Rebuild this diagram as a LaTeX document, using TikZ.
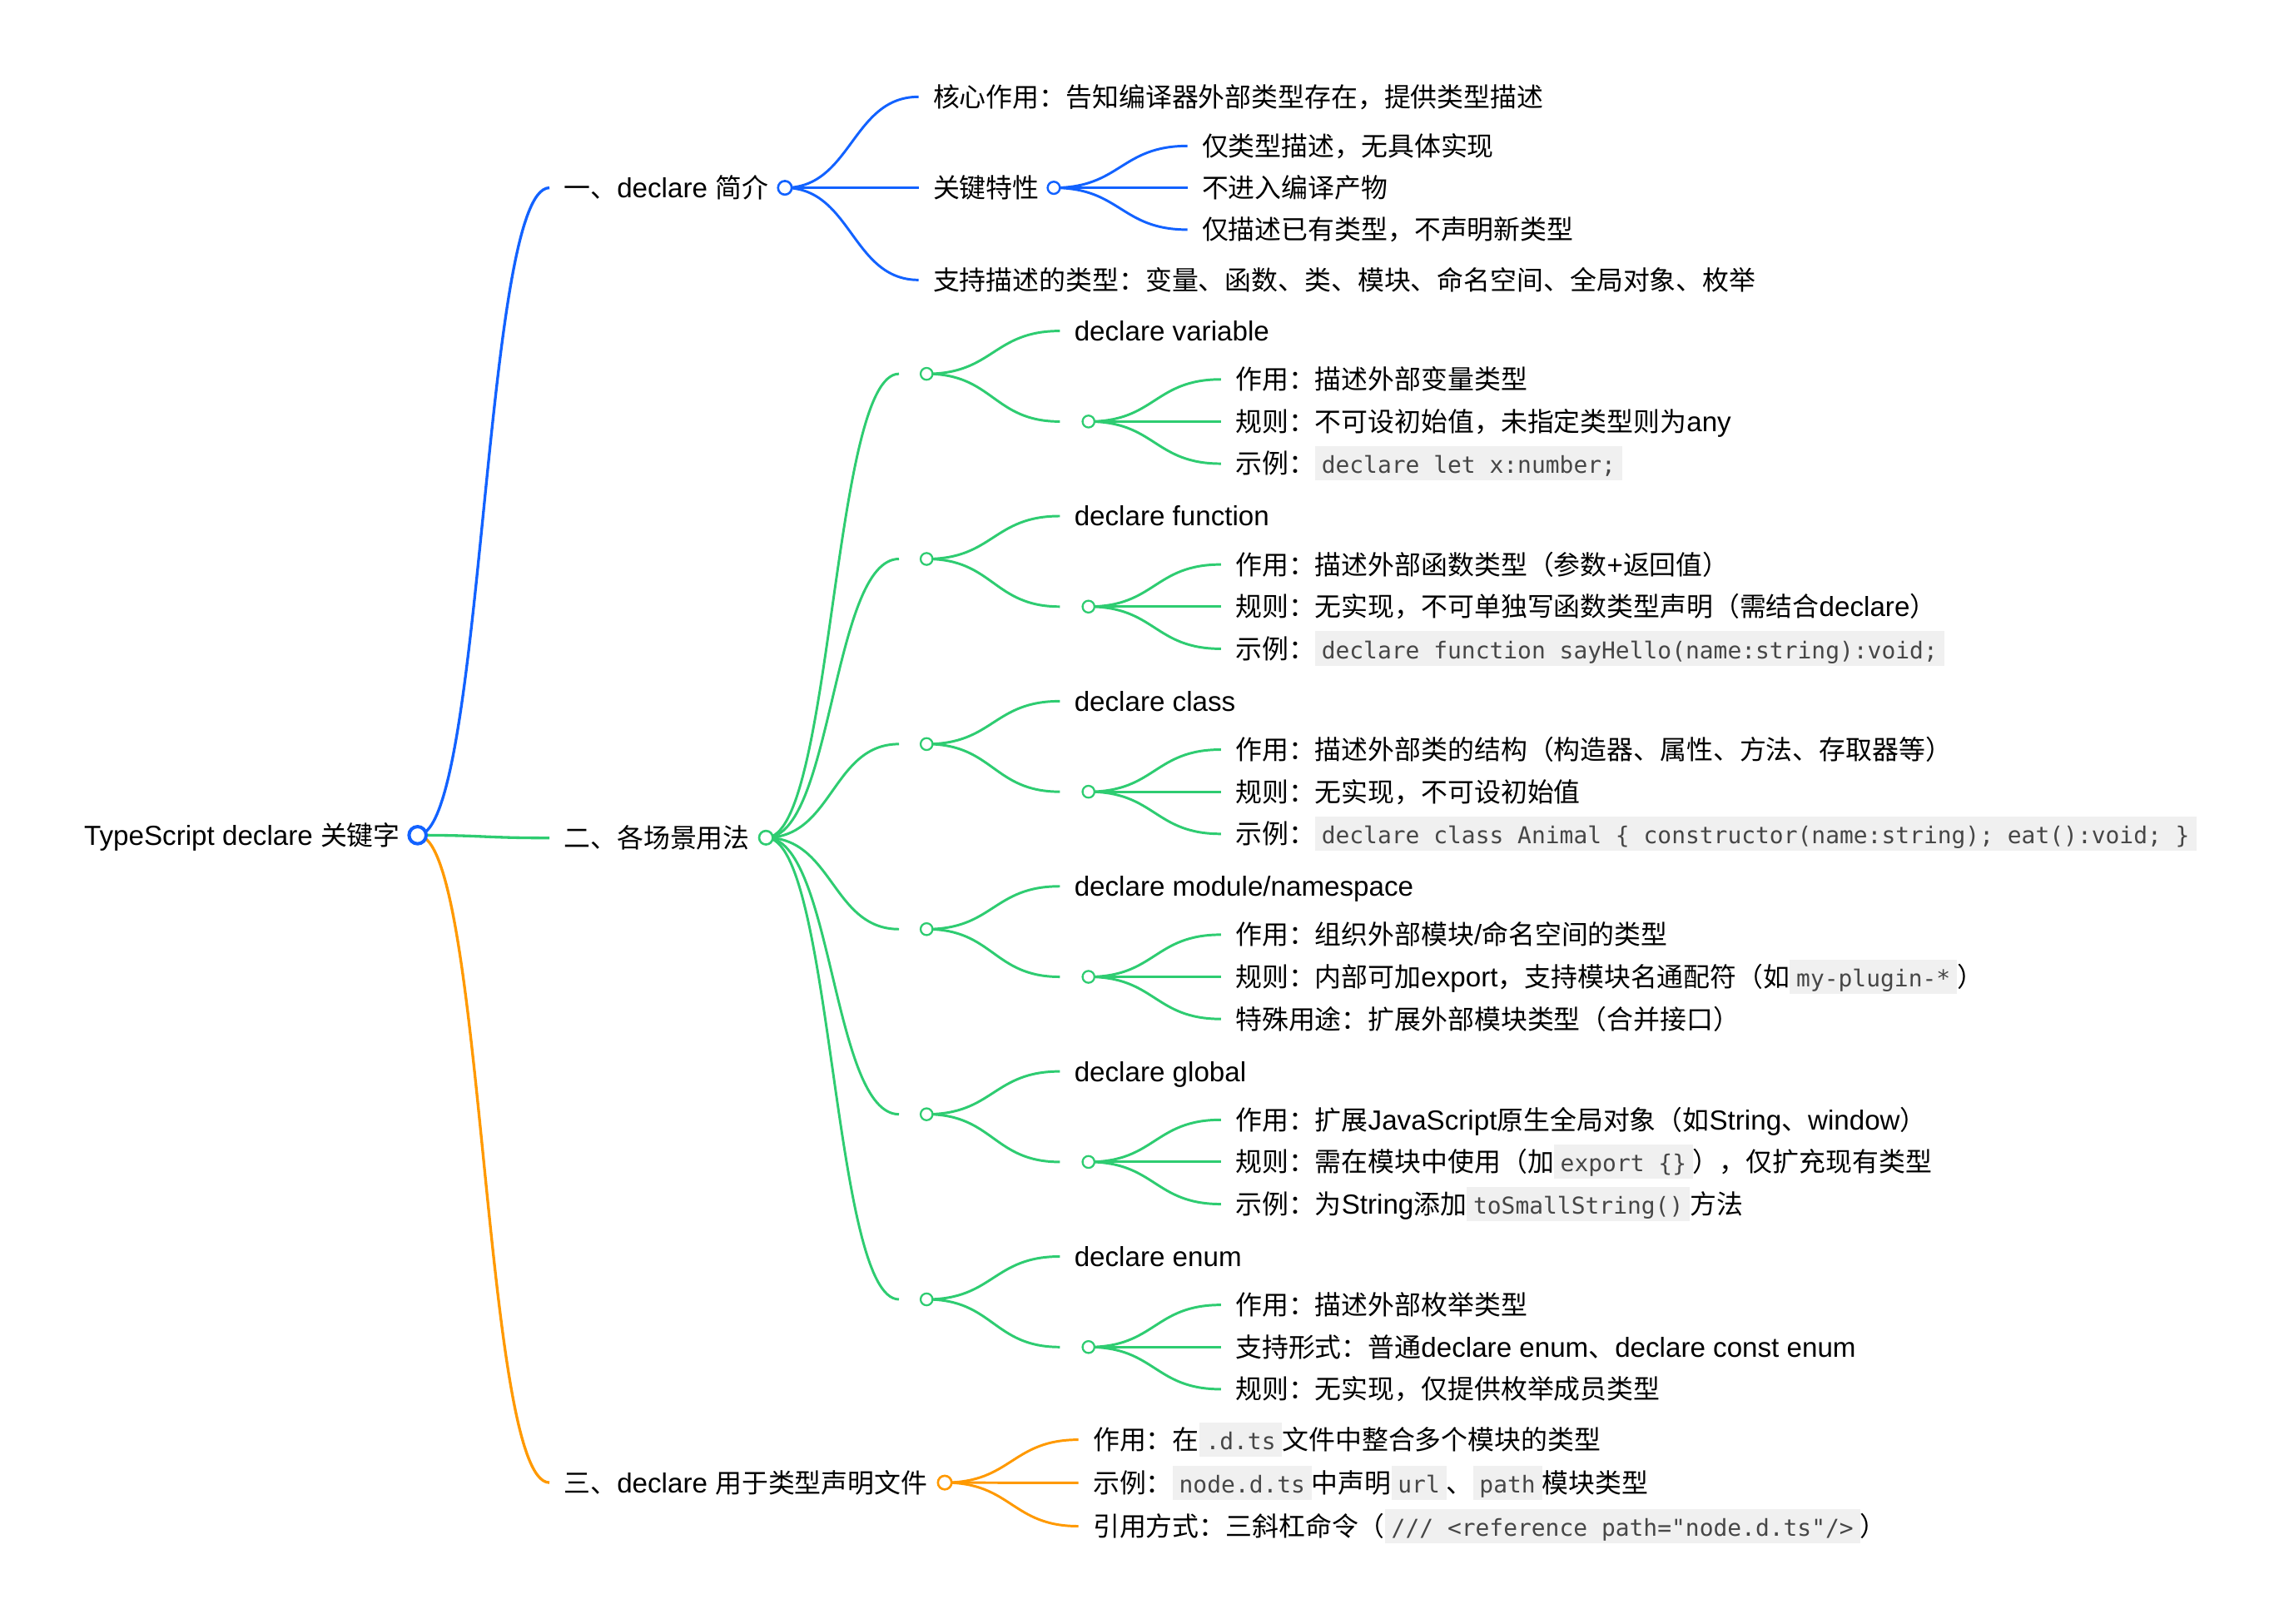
\documentclass[tikz,border=0pt]{standalone}
\usepackage{fontspec}
\setmainfont{Liberation Sans}[Scale=1.04]
\setmonofont{DejaVu Sans Mono}
\newfontfamily\cjkfont{Noto Sans CJK SC}
\usetikzlibrary{backgrounds}

\definecolor{mapblue}{RGB}{18,98,255}
\definecolor{mapgreen}{RGB}{46,204,113}
\definecolor{maporange}{RGB}{255,153,0}
\definecolor{codebg}{RGB}{240,240,240}
\definecolor{codefg}{RGB}{70,70,70}

% CJK characters switch to the CJK family, the rest stays Latin
\XeTeXinterchartokenstate=1
\newXeTeXintercharclass\cjkclass
\newcount\cjkcode
\newcommand{\cjkrange}[2]{\cjkcode=#1\relax
  \loop\ifnum\cjkcode<#2\relax
    \XeTeXcharclass\cjkcode=\cjkclass \advance\cjkcode by 1
  \repeat}
\cjkrange{"3000}{"3040}
\cjkrange{"4E00}{"A000}
\cjkrange{"FF00}{"FFF0}
\XeTeXinterchartoks 0 \cjkclass = {\cjkfont}
\XeTeXinterchartoks 4095 \cjkclass = {\cjkfont}
\XeTeXinterchartoks \cjkclass 0 = {\rmfamily}
\XeTeXinterchartoks \cjkclass 4095 = {\rmfamily}

% inline code on a grey box
\newcommand{\code}[1]{{\setlength{\fboxsep}{0pt}\colorbox{codebg}{%
  \rule[-4.8pt]{0pt}{23.6pt}\hspace{4.5pt}%
  {\ttfamily\fontsize{16}{19}\selectfont\color{codefg}#1}\hspace{4.5pt}}}}

\begin{document}
\begin{tikzpicture}[x=1pt, y=-1pt,
    every node/.style={font=\fontsize{18.26}{22}\selectfont, inner sep=0pt},
    maptext/.style={anchor=base west, xshift=9.8pt, yshift=-6.8pt},
    mapdot/.style={circle, draw=#1, fill=white, line width=1.3pt, minimum size=8.2pt},
    bigdot/.style={line width=1.5pt, minimum size=9.4pt},
    maplink/.style={draw=#1, line width=1.7pt}]
    \useasboundingbox (0,0) rectangle (1568,1117);
    % Root
    \node[mapdot=mapblue, line width=2.3pt, minimum size=11.8pt] (rootdot) at (287.3,574.6) {};
    \node[anchor=base east, yshift=-6.8pt] (root) at (275.5,574.8) {TypeScript declare 关键字};
    % First level
    \coordinate (intro-in) at (378,129.2);
    \coordinate (usage-in) at (378,576.5);
    \coordinate (dts-in) at (378,1020);
    \node[maptext] (intro) at (intro-in) {一、declare 简介};
    \node[maptext] (usage) at (usage-in) {二、各场景用法};
    \node[maptext] (dts) at (dts-in) {三、declare 用于类型声明文件};
    \node[mapdot=mapblue, bigdot] (introdot) at (540,129.2) {};
    \node[mapdot=mapgreen, bigdot] (usagedot) at (527,576.3) {};
    \node[mapdot=maporange, bigdot] (dtsdot) at (650,1020) {};
    % Intro branch
    \coordinate (intro-1) at (632,66.6);
    \coordinate (intro-2) at (632,129.2);
    \coordinate (intro-3) at (632,192.6);
    \node[maptext] (core) at (intro-1) {核心作用：告知编译器外部类型存在，提供类型描述};
    \node[maptext] (key) at (intro-2) {关键特性};
    \node[maptext] (kinds) at (intro-3) {支持描述的类型：变量、函数、类、模块、命名空间、全局对象、枚举};
    \node[mapdot=mapblue, line width=1.4pt, minimum size=8.4pt] (keydot) at (725,129.2) {};
    \coordinate (key-1) at (817,100.4);
    \coordinate (key-2) at (817,129.2);
    \coordinate (key-3) at (817,158);
    \node[maptext] (key-a) at (key-1) {仅类型描述，无具体实现};
    \node[maptext] (key-b) at (key-2) {不进入编译产物};
    \node[maptext] (key-c) at (key-3) {仅描述已有类型，不声明新类型};
    % Usage branch: hub dot, title, detail dot
    \foreach \i/\y in {1/257.2,2/384.55,3/511.9,4/639.25,5/766.6,6/893.95} {
      \coordinate (u\i-in) at (618.5,\y);
      \node[mapdot=mapgreen] (u\i) at (637.5,\y) {};
      \coordinate (u\i-t) at (729.2,\y-29.5);
      \coordinate (u\i-s) at (729.2,\y+32.8);
      \node[mapdot=mapgreen] (s\i) at (748.9,\y+32.8) {};
      \coordinate (s\i-1) at (840,\y+3.8);
      \coordinate (s\i-2) at (840,\y+32.8);
      \coordinate (s\i-3) at (840,\y+61.8);
    }
    \node[maptext] (var) at (u1-t) {declare variable};
    \node[maptext] (var-a) at (s1-1) {作用：描述外部变量类型};
    \node[maptext] (var-b) at (s1-2) {规则：不可设初始值，未指定类型则为any};
    \node[maptext] (var-c) at (s1-3) {示例：\code{declare let x:number;}};
    \node[maptext] (fun) at (u2-t) {declare function};
    \node[maptext] (fun-a) at (s2-1) {作用：描述外部函数类型（参数+返回值）};
    \node[maptext] (fun-b) at (s2-2) {规则：无实现，不可单独写函数类型声明（需结合declare）};
    \node[maptext] (fun-c) at (s2-3) {示例：\code{declare function sayHello(name:string):void;}};
    \node[maptext] (cls) at (u3-t) {declare class};
    \node[maptext] (cls-a) at (s3-1) {作用：描述外部类的结构（构造器、属性、方法、存取器等）};
    \node[maptext] (cls-b) at (s3-2) {规则：无实现，不可设初始值};
    \node[maptext] (cls-c) at (s3-3) {示例：\code{declare class Animal \{ constructor(name:string); eat():void; \}}};
    \node[maptext] (mod) at (u4-t) {declare module/namespace};
    \node[maptext] (mod-a) at (s4-1) {作用：组织外部模块/命名空间的类型};
    \node[maptext] (mod-b) at (s4-2) {规则：内部可加export，支持模块名通配符（如\code{my-plugin-*}）};
    \node[maptext] (mod-c) at (s4-3) {特殊用途：扩展外部模块类型（合并接口）};
    \node[maptext] (glb) at (u5-t) {declare global};
    \node[maptext] (glb-a) at (s5-1) {作用：扩展JavaScript原生全局对象（如String、window）};
    \node[maptext] (glb-b) at (s5-2) {规则：需在模块中使用（加\code{export \{\}}），仅扩充现有类型};
    \node[maptext] (glb-c) at (s5-3) {示例：为String添加\code{toSmallString()}方法};
    \node[maptext] (enm) at (u6-t) {declare enum};
    \node[maptext] (enm-a) at (s6-1) {作用：描述外部枚举类型};
    \node[maptext] (enm-b) at (s6-2) {支持形式：普通declare enum、declare const enum};
    \node[maptext] (enm-c) at (s6-3) {规则：无实现，仅提供枚举成员类型};
    % Declaration file branch
    \coordinate (dts-1) at (742,990.5);
    \coordinate (dts-2) at (742,1020.2);
    \coordinate (dts-3) at (742,1050);
    \node[maptext] (dts-a) at (dts-1) {作用：在\code{.d.ts}文件中整合多个模块的类型};
    \node[maptext] (dts-b) at (dts-2) {示例：\code{node.d.ts}中声明\code{url}、\code{path}模块类型};
    \node[maptext] (dts-c) at (dts-3) {引用方式：三斜杠命令（\code{/// <reference path="node.d.ts"/>}）};
    % Links, behind the dots
    \begin{scope}[on background layer]
      \foreach \a/\b/\c in {rootdot/intro-in/mapblue, rootdot/usage-in/mapgreen, rootdot/dts-in/maporange}
        \draw[maplink=\c, line width=1.9pt] (\a.center) .. controls +(46,0) and +(-46,0) .. (\b);
      \foreach \a/\b in {introdot/intro-1, introdot/intro-2, introdot/intro-3,
                         keydot/key-1, keydot/key-2, keydot/key-3}
        \draw[maplink=mapblue] (\a.center) .. controls +(46,0) and +(-46,0) .. (\b);
      \foreach \i in {1,...,6} {
        \draw[maplink=mapgreen] (usagedot.center) .. controls +(46,0) and +(-46,0) .. (u\i-in);
        \foreach \b in {t,s}
          \draw[maplink=mapgreen] (u\i.center) .. controls +(46,0) and +(-46,0) .. (u\i-\b);
        \foreach \k in {1,2,3}
          \draw[maplink=mapgreen] (s\i.center) .. controls +(46,0) and +(-46,0) .. (s\i-\k);
      }
      \foreach \b in {dts-1,dts-2,dts-3}
        \draw[maplink=maporange] (dtsdot.center) .. controls +(46,0) and +(-46,0) .. (\b);
    \end{scope}
\end{tikzpicture}
\end{document}
